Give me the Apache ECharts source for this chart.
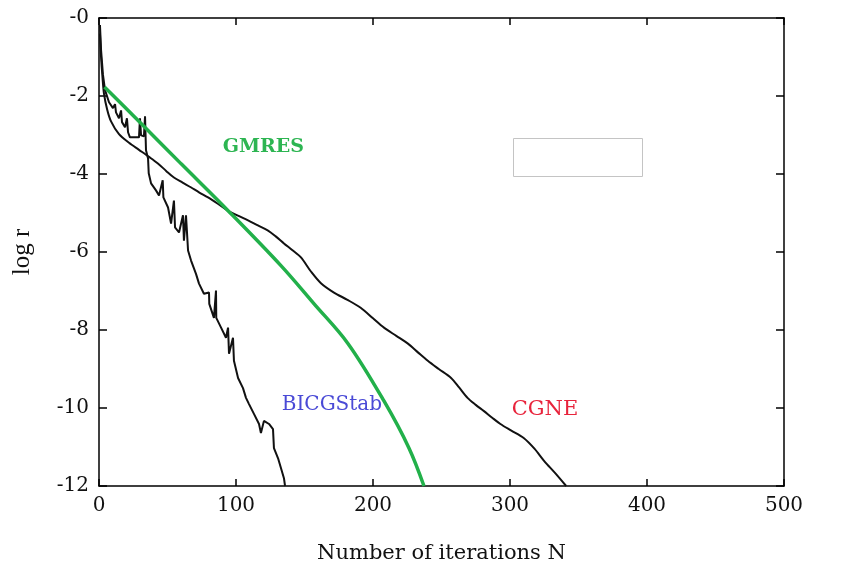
<!DOCTYPE html>
<html>
<head>
<meta charset="utf-8">
<script src="https://cdn.jsdelivr.net/npm/echarts@6/dist/echarts.min.js"></script>
<style>
    html, body { margin: 0; padding: 0; background: #fff; }
    #chart { width: 854px; height: 566px; }
</style>
</head>
<body>
<div id="chart"></div>
<script>
    // x轴 / y轴 刻度
    const xTicks = [0, 100, 200, 300, 400, 500]
    const yTicks = [0, -2, -4, -6, -8, -10, -12]

    // BICGStab 残差 (锯齿状)
    const bicgstab = [
        [0.7, -0.18], [1.5, -0.82], [2.9, -1.46], [4.4, -1.85], [7.3, -2.16], [10.2, -2.31],
        [11.7, -2.21], [12.4, -2.42], [14.6, -2.57], [16.1, -2.37], [16.8, -2.67], [19.0, -2.80],
        [20.4, -2.57], [21.2, -2.93], [22.6, -3.06], [26.3, -3.06], [29.2, -3.06], [29.9, -2.57],
        [30.7, -3.01], [32.8, -3.03], [33.6, -2.52], [34.3, -3.39], [35.8, -3.60], [36.3, -3.98],
        [38.0, -4.24], [41.6, -4.42], [43.8, -4.55], [46.5, -4.16], [47.0, -4.60], [50.4, -4.86],
        [52.6, -5.27], [54.7, -4.68], [55.5, -5.37], [58.4, -5.50], [61.3, -5.06], [62.0, -5.71],
        [63.5, -5.06], [65.0, -5.96], [67.2, -6.22], [70.8, -6.56], [73.0, -6.81], [76.6, -7.07],
        [80.3, -7.04], [80.5, -7.33], [83.9, -7.69], [85.4, -6.99], [85.6, -7.69], [89.1, -7.94],
        [92.7, -8.20], [94.2, -7.94], [94.9, -8.61], [97.8, -8.20], [98.5, -8.79], [101.5, -9.23],
        [105.1, -9.49], [107.3, -9.74], [109.5, -9.90], [113.1, -10.15], [116.8, -10.41], [118.2, -10.64],
        [120.4, -10.33], [124.1, -10.41], [127.0, -10.54], [127.7, -11.03], [130.7, -11.29], [132.8, -11.54],
        [135.0, -11.80], [135.8, -12.0]
    ]

    // CGNE 残差
    const cgne = [
        [0.7, -0.4], [1.5, -1.0], [2.5, -1.5], [3.6, -1.93], [6, -2.35], [8.8, -2.65], [14.6, -2.98],
        [21.9, -3.2], [29.2, -3.38], [36.5, -3.56], [43, -3.73], [49, -3.92], [54.7, -4.09], [61, -4.22],
        [67, -4.34], [73, -4.47], [79.6, -4.6], [87, -4.77], [94, -4.94], [101, -5.06], [108.8, -5.19],
        [116, -5.32], [123.4, -5.45], [129, -5.6], [135, -5.78], [141, -5.95], [147.4, -6.14],
        [154.7, -6.5], [162, -6.8], [171.5, -7.04], [181, -7.22], [191, -7.43], [200, -7.7], [208, -7.94],
        [217, -8.15], [225.5, -8.35], [233, -8.58], [240, -8.79], [248, -9.0], [257, -9.23], [263, -9.48],
        [269, -9.74], [275, -9.92], [281, -10.08], [287, -10.25], [293, -10.41], [301, -10.58],
        [310, -10.77], [318, -11.05], [325, -11.36], [333, -11.67], [341, -12]
    ]

    // GMRES 残差
    const gmres = [
        [4, -1.77], [30, -2.68], [60, -3.74], [94.2, -4.94], [132.8, -6.35], [157, -7.33],
        [181.8, -8.35], [208, -9.82], [226.3, -11.03], [237.2, -12]
    ]

    // 曲线旁的文字标注 (数据坐标)
    const gmresLabel = [120, -3.32]
    const bicgLabel = [170, -9.92]
    const cgneLabel = [325.5, -10.03]

    const serif = 'DejaVu Serif'
    const chartInstance = echarts.init(document.getElementById('chart'))

    // 文字标注用 markPoint 实现
    function textMark(coord, text, color, size, weight) {
        return {
            symbol: 'circle',
            symbolSize: 0,
            silent: true,
            label: {
                show: true,
                position: 'inside',
                formatter: text,
                color: color,
                fontFamily: serif,
                fontSize: size,
                fontWeight: weight || 'normal'
            },
            data: [{ coord: coord }]
        }
    }

    const axisLineStyle = { color: '#000', width: 1.5 }
    const tickStyle = { color: '#000', width: 1.5 }

    const option = {
        animation: false,
        backgroundColor: '#fff',
        grid: {
            left: 99,
            right: 70,
            top: 18,
            bottom: 80,
            outerBoundsMode: 'none'
        },
        xAxis: [{
            type: 'value',
            min: xTicks[0],
            max: xTicks[xTicks.length - 1],
            interval: 100,
            name: 'Number of iterations N',
            nameLocation: 'middle',
            nameGap: 57,
            nameTextStyle: { fontFamily: serif, fontSize: 21, color: '#111' },
            axisLine: { onZero: false, lineStyle: axisLineStyle },
            axisTick: { inside: true, length: 7, lineStyle: tickStyle },
            axisLabel: { fontFamily: serif, fontSize: 20, color: '#111', margin: 10 },
            splitLine: { show: false }
        }, {
            type: 'value',
            position: 'top',
            min: xTicks[0],
            max: xTicks[xTicks.length - 1],
            interval: 100,
            axisLine: { show: true, onZero: false, lineStyle: axisLineStyle },
            axisTick: { inside: true, length: 7, lineStyle: tickStyle },
            axisLabel: { show: false },
            splitLine: { show: false }
        }],
        yAxis: [{
            type: 'value',
            min: yTicks[yTicks.length - 1],
            max: yTicks[0],
            interval: 2,
            name: 'log r',
            nameLocation: 'middle',
            nameGap: 64,
            nameTextStyle: { fontFamily: 'Liberation Serif', fontSize: 25, color: '#111' },
            axisLine: { show: true, onZero: false, lineStyle: axisLineStyle },
            axisTick: { show: true, inside: true, length: 8, lineStyle: tickStyle },
            axisLabel: {
                fontFamily: serif,
                fontSize: 20,
                color: '#111',
                margin: 10,
                formatter: function (value) {
                    return value === 0 ? '-0' : String(value)
                }
            },
            splitLine: { show: false }
        }, {
            type: 'value',
            position: 'right',
            min: yTicks[yTicks.length - 1],
            max: yTicks[0],
            interval: 2,
            axisLine: { show: true, onZero: false, lineStyle: axisLineStyle },
            axisTick: { show: true, inside: true, length: 8, lineStyle: tickStyle },
            axisLabel: { show: false },
            splitLine: { show: false }
        }],
        series: [{
            name: 'CGNE',
            type: 'line',
            data: cgne,
            showSymbol: false,
            smooth: 0.3,
            lineStyle: { color: '#111', width: 2 },
            markPoint: textMark(cgneLabel, 'CGNE', '#e8243c', 21)
        }, {
            name: 'BICGStab',
            type: 'line',
            data: bicgstab,
            showSymbol: false,
            lineStyle: { color: '#111', width: 2 },
            markPoint: textMark(bicgLabel, 'BICGStab', '#4a4ad6', 20)
        }, {
            name: 'GMRES',
            type: 'line',
            data: gmres,
            showSymbol: false,
            smooth: 0.35,
            lineStyle: { color: '#22b04a', width: 3.5 },
            markPoint: textMark(gmresLabel, 'GMRES', '#2db552', 19, 'bold')
        }],
        // 右上角的空白方框
        graphic: [{
            type: 'rect',
            left: 513,
            top: 138,
            shape: { width: 129, height: 38 },
            style: { fill: '#fff', stroke: '#c4c4c4', lineWidth: 1 }
        }]
    }
    chartInstance.setOption(option)
</script>
</body>
</html>
